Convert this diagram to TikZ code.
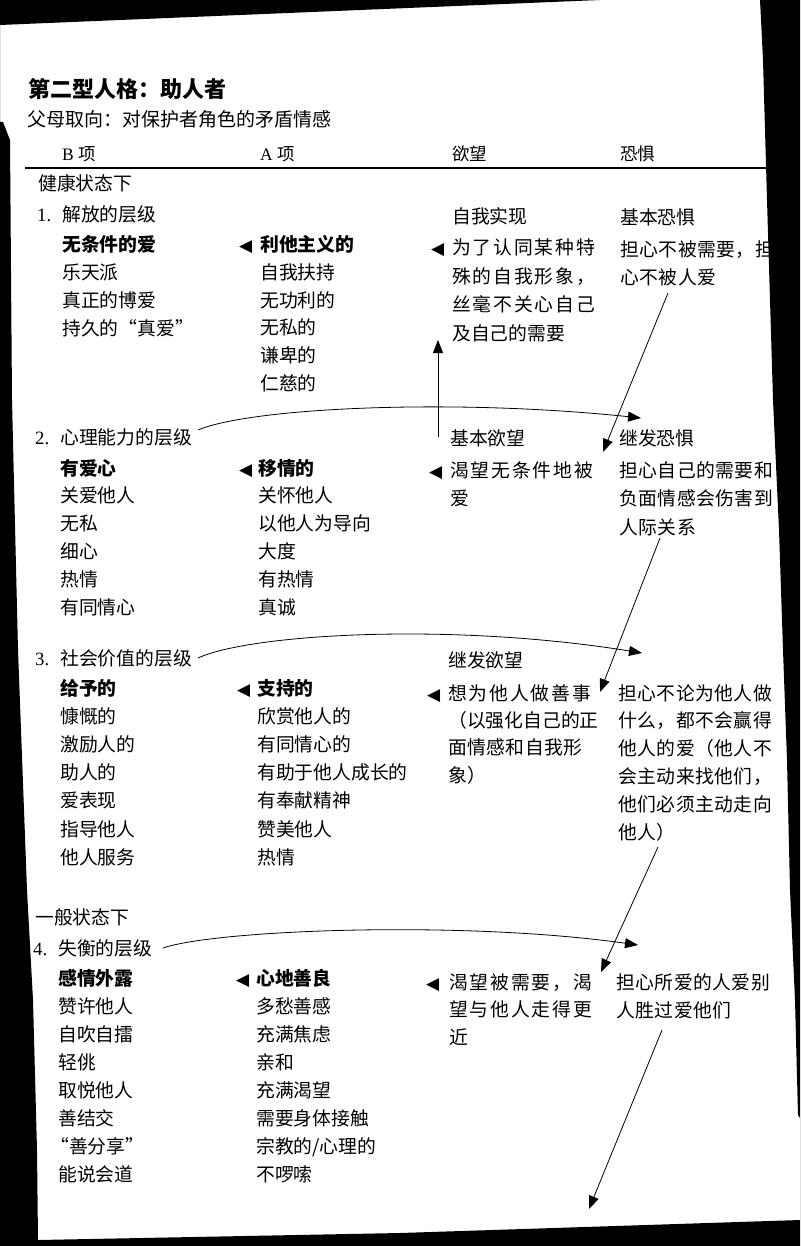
\documentclass[tikz,border=0pt]{standalone}
\usepackage{fontspec}
\newfontfamily\cjk{Noto Sans CJK SC}
\newfontfamily\cjkw[LetterSpace=10]{Noto Sans CJK SC}
\newfontfamily\cjkf[LetterSpace=2.5]{Noto Sans CJK SC}
\newfontfamily\latf{Liberation Serif}
\newfontfamily\symf{DejaVu Sans}
\usetikzlibrary{arrows.meta,calc}
\newcommand\bodyf{\cjk\fontsize{18.8pt}{28pt}\selectfont}
\newcommand\bodyff{\cjkf\fontsize{18.8pt}{28pt}\selectfont}
\newcommand\colblock[6]{\foreach \t [count=\i] in {#6}{\node[#1] (#2-\i) at (#3,{#4+#5*(\i-1)}) {\t};}}
\begin{document}
\begin{tikzpicture}[x=1pt,y=-1pt,
  ln/.style={anchor=base west, inner sep=0pt, font=\bodyf},
  lnf/.style={anchor=base west, inner sep=0pt, font=\bodyff},
  hd/.style={anchor=base west, inner sep=0pt, font=\cjk\fontsize{17.5pt}{20pt}\selectfont},
  mk/.style={anchor=base west, inner sep=0pt, font=\symf\fontsize{17pt}{17pt}\selectfont},
  conn/.style={line width=0.8pt, -{Triangle[length=13pt,width=10pt]}},
]
\useasboundingbox (0,0) rectangle (800,1246);
\fill[white] (0,0) rectangle (800,1246);

% title
\node[anchor=base west, inner sep=0pt, font=\cjk\bfseries\fontsize{22pt}{24pt}\selectfont] (title) at (28,98) {第二型人格：助人者};
\node[anchor=base west, inner sep=0pt, font=\cjk\fontsize{19pt}{22pt}\selectfont] (sub) at (27,127) {父母取向：对保护者角色的矛盾情感};

% header
\node[hd] (hB) at (62,161) {{\latf B}\hspace{5pt}项};
\node[hd] (hA) at (260,161) {{\latf A}\hspace{5pt}项};
\node[hd] (hD) at (452,161) {欲望};
\node[hd] (hF) at (620,161) {恐惧};
\coordinate (rs) at (25,168);
\coordinate (re) at (800,168);
\draw[line width=1.2pt] (rs) -- (re);

% section 1
\node[ln] (healthy) at (38,191) {健康状态下};
\node[ln] (h1) at (37,222) {\makebox[25pt][l]{\latf 1.}解放的层级};
\colblock{ln}{b1}{62}{252}{27.7}{{\bfseries 无条件的爱},乐天派,真正的博爱,持久的“真爱”}
\node[mk] (ma1) at (239,252) {◀};
\colblock{ln}{a1}{260}{252}{27.6}{{\bfseries 利他主义的},自我扶持,无功利的,无私的,谦卑的,仁慈的}
\node[ln] (d1h) at (452,224) {自我实现};
\node[mk] (md1) at (431,255) {◀};
\colblock{ln}{d1}{452}{255}{28.5}{{\cjkw 为了认同某种特},{\cjkw 殊的自我形象，},{\cjkw 丝毫不关心自己},及自己的需要}
\node[ln] (f1h) at (620,225) {基本恐惧};
\colblock{lnf}{f1}{620}{257}{27}{担心不被需要，担,心不被人爱}

% section 2
\node[ln] (h2) at (35,444) {\makebox[25pt][l]{\latf 2.}心理能力的层级};
\colblock{ln}{b2}{60}{475}{27.8}{{\bfseries 有爱心},关爱他人,无私,细心,热情,有同情心}
\node[mk] (ma2) at (239,475) {◀};
\colblock{ln}{a2}{258}{475}{27.8}{{\bfseries 移情的},关怀他人,以他人为导向,大度,有热情,真诚}
\node[ln] (d2h) at (450,445) {基本欲望};
\node[mk] (md2) at (429,477) {◀};
\colblock{ln}{d2}{450}{477}{28}{{\cjkw 渴望无条件地被},爱}
\node[ln] (f2h) at (619,445) {继发恐惧};
\colblock{lnf}{f2}{619}{477}{28.5}{担心自己的需要和,负面情感会伤害到,人际关系}

% section 3
\node[ln] (h3) at (35,665) {\makebox[25pt][l]{\latf 3.}社会价值的层级};
\colblock{ln}{b3}{60}{695}{28.2}{{\bfseries 给予的},慷慨的,激励人的,助人的,爱表现,指导他人,他人服务}
\node[mk] (ma3) at (237,695) {◀};
\colblock{ln}{a3}{257}{695}{28.2}{{\bfseries 支持的},欣赏他人的,有同情心的,有助于他人成长的,有奉献精神,赞美他人,热情}
\node[ln] (d3h) at (448,667) {继发欲望};
\node[mk] (md3) at (427,700) {◀};
\colblock{ln}{d3}{448}{700}{27.4}{{\cjkw 想为他人做善事},（以强化自己的正,{\cjkf 面情感和自我形},象）}
\colblock{lnf}{f3}{618}{700}{27.8}{担心不论为他人做,什么，都不会赢得,他人的爱（他人不,会主动来找他们，,他们必须主动走向,他人）}

% section 4
\node[ln] (normal) at (35,924) {一般状态下};
\node[ln] (h4) at (33,955) {\makebox[25pt][l]{\latf 4.}失衡的层级};
\colblock{ln}{b4}{58}{985}{28}{{\bfseries 感情外露},赞许他人,自吹自擂,轻佻,取悦他人,善结交,{\hspace{-8pt}“善分享”},能说会道}
\node[mk] (ma4) at (236,985) {◀};
\colblock{ln}{a4}{256}{985}{28}{{\bfseries 心地善良},多愁善感,充满焦虑,亲和,充满渴望,需要身体接触,宗教的/心理的,不啰嗦}
\node[mk] (md4) at (426,989) {◀};
\colblock{ln}{d4}{449}{989}{27.5}{{\cjkw 渴望被需要，渴},{\cjkw 望与他人走得更},近}
\colblock{lnf}{f4}{616}{989}{28}{担心所爱的人爱别,人胜过爱他们}

% connectors
\coordinate (u1s) at (438,437);
\coordinate (u1e) at (438,340);
\draw[conn] (u1s) -- (u1e);

\coordinate (c1s) at (198,430);
\coordinate (c1e) at (641,418);
\draw[conn] (c1s) .. controls (250,408) and (450,398) .. (c1e);
\coordinate (c2s) at (198,658);
\coordinate (c2e) at (642,653);
\draw[conn] (c2s) .. controls (250,634) and (450,622) .. (c2e);
\coordinate (c3s) at (163,948);
\coordinate (c3e) at (638,945);
\draw[conn] (c3s) .. controls (215,930) and (460,920) .. (c3e);

\coordinate (g1s) at (668,293);
\coordinate (g1e) at (603,452);
\draw[conn] (g1s) -- (g1e);
\coordinate (g2s) at (660,538);
\coordinate (g2e) at (600,692);
\draw[conn] (g2s) -- (g2e);
\coordinate (g3s) at (658,847);
\coordinate (g3e) at (601,972);
\draw[conn] (g3s) -- (g3e);
\coordinate (g4s) at (662,1030);
\coordinate (g4e) at (589,1209);
\draw[conn] (g4s) -- (g4e);

% scanner frame
\fill[black, even odd rule] (0,0) rectangle (800,1246)
  (0,25) -- (600,0) -- (760,0) -- (763,60) -- (767,200) -- (773,400) -- (779,530)
  -- (783,650) -- (787,760) -- (790,890) -- (795,1000) -- (798,1115) -- (800,1118)
  -- (800,1220) -- (400,1233) -- (38,1240) -- (37,1150) -- (33,1000) -- (27,890)
  -- (18,650) -- (12,400) -- (10,140) -- (3,122) -- (0,122) -- cycle;
\end{tikzpicture}
\end{document}
